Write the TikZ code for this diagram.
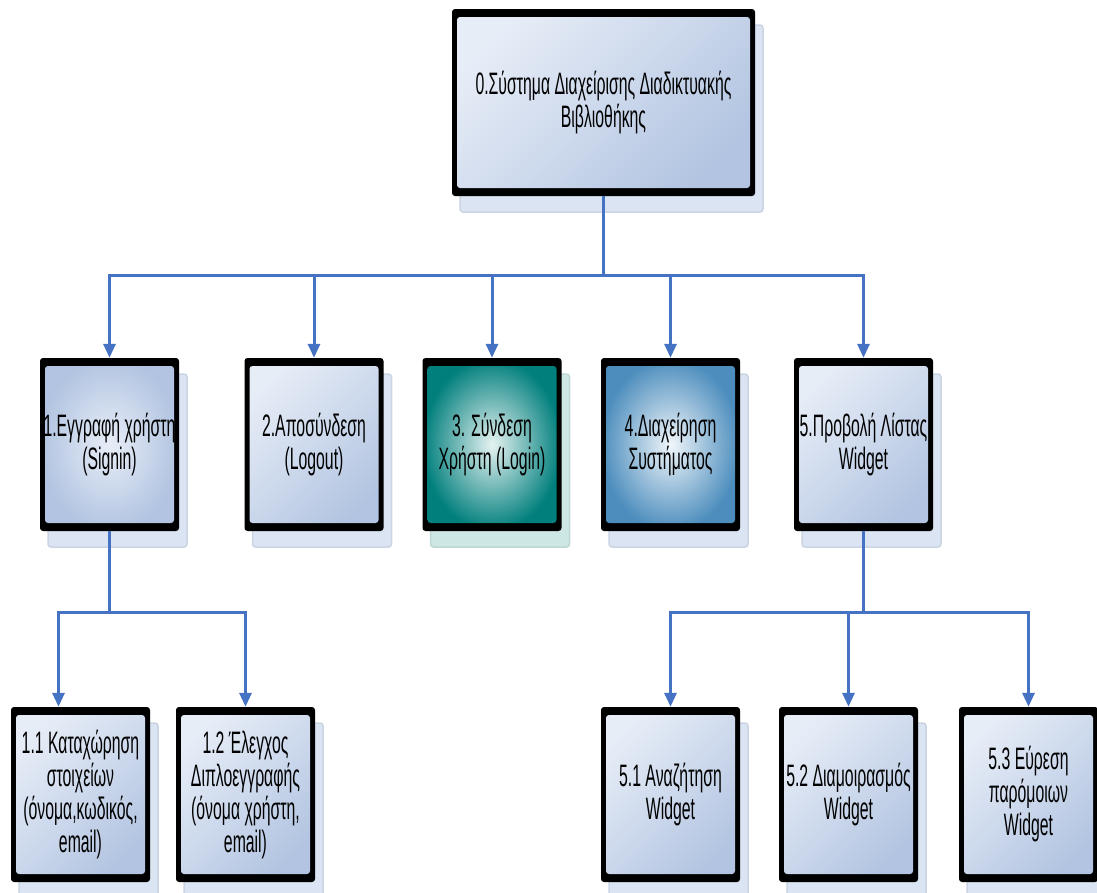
\documentclass[tikz,border=0pt]{standalone}
\usepackage{fontspec}
\setmainfont{Liberation Sans}[FakeStretch=0.51]
\usetikzlibrary{arrows.meta,shadows}

\definecolor{linkblue}{RGB}{70,114,196}
\definecolor{boxlight}{RGB}{231,237,247}
\definecolor{boxdark}{RGB}{178,196,225}
\definecolor{shadowblue}{RGB}{218,228,243}
\definecolor{shadowteal}{RGB}{205,231,229}
\definecolor{tealdark}{RGB}{0,127,124}
\definecolor{steeldark}{RGB}{76,141,189}

\begin{document}
\begin{tikzpicture}[x=1pt, y=-1pt, >={Triangle[width=12pt,length=14pt]}]
            \tikzset{
              paleshade/.style={shading=axis, top color=boxlight, bottom color=boxdark, shading angle=45},
              glowshade/.style={inner color=boxlight, outer color=boxdark},
              tealshade/.style={inner color=white!90!tealdark, outer color=tealdark},
              steelshade/.style={inner color=white!92!steeldark, outer color=steeldark},
              task/.style 2 args={rectangle, fill=black, rounded corners=3pt, inner sep=0pt,
                align=center, font=\fontsize{31}{33}\selectfont,
                drop shadow={shadow xshift=8pt, shadow yshift=-16pt, opacity=1,
                  fill=#2, draw=#2!93!black, line width=1.5pt},
                path picture={\shade[#1]
                  ([shift={(5pt,-8pt)}]path picture bounding box.north west) rectangle
                  ([shift={(-5pt,8pt)}]path picture bounding box.south east);}},
              top/.style={minimum width=303pt, minimum height=187pt},
              mid/.style={minimum width=139pt, minimum height=173pt},
              low/.style={minimum width=139pt, minimum height=175pt},
              link/.style={draw=linkblue, line width=3pt}
            }
            \useasboundingbox (0,0) rectangle (1097,892);

            % Nodes
            \node[task={paleshade}{shadowblue}, top] (sys) at (603.5,102.5)
              {0.Σύστημα Διαχείρισης Διαδικτυακής\\Βιβλιοθήκης};

            \node[task={glowshade}{shadowblue}, mid] (reg) at (109.5,444.5) {1.Εγγραφή χρήστη\\(Signin)};
            \node[task={paleshade}{shadowblue}, mid] (logout) at (314,444.5) {2.Αποσύνδεση\\(Logout)};
            \node[task={tealshade}{shadowteal}, mid] (login) at (492,444.5) {3. Σύνδεση\\Χρήστη (Login)};
            \node[task={steelshade}{shadowblue}, mid] (admin) at (670.5,444.5) {4.Διαχείρηση\\Συστήματος};
            \node[task={paleshade}{shadowblue}, mid] (list) at (863.5,444.5) {5.Προβολή Λίστας\\Widget};

            \node[task={paleshade}{shadowblue}, low] (entry) at (80.5,794.5)
              {1.1 Καταχώρηση\\στοιχείων\\(όνομα,κωδικός,\\email)};
            \node[task={paleshade}{shadowblue}, low] (dupcheck) at (245.5,794.5)
              {1.2 Έλεγχος\\Διπλοεγγραφής\\(όνομα χρήστη,\\email)};
            \node[task={paleshade}{shadowblue}, low] (search) at (670.5,794.5) {5.1 Αναζήτηση\\Widget};
            \node[task={paleshade}{shadowblue}, low] (share) at (848.5,794.5) {5.2 Διαμοιρασμός\\Widget};
            \node[task={paleshade}{shadowblue}, low] (similar) at (1028.5,794.5) {5.3 Εύρεση\\παρόμοιων\\Widget};

            % Edges
            \coordinate (bus0) at (603.5,275);
            \coordinate (bus1) at (109.5,612);
            \coordinate (bus5) at (863.5,612);

            \draw[link] (sys.south) -- (bus0);
            \foreach \n in {reg, logout, login, admin, list}
              \draw[link, ->] (bus0) -| (\n.north);

            \draw[link] (reg.south) -- (bus1);
            \draw[link, ->] (bus1) -| ([xshift=-22pt]entry.north);
            \draw[link, ->] (bus1) -| (dupcheck.north);

            \draw[link] (list.south) -- (bus5);
            \foreach \n in {search, share, similar}
              \draw[link, ->] (bus5) -| (\n.north);

        \end{tikzpicture}
\end{document}
